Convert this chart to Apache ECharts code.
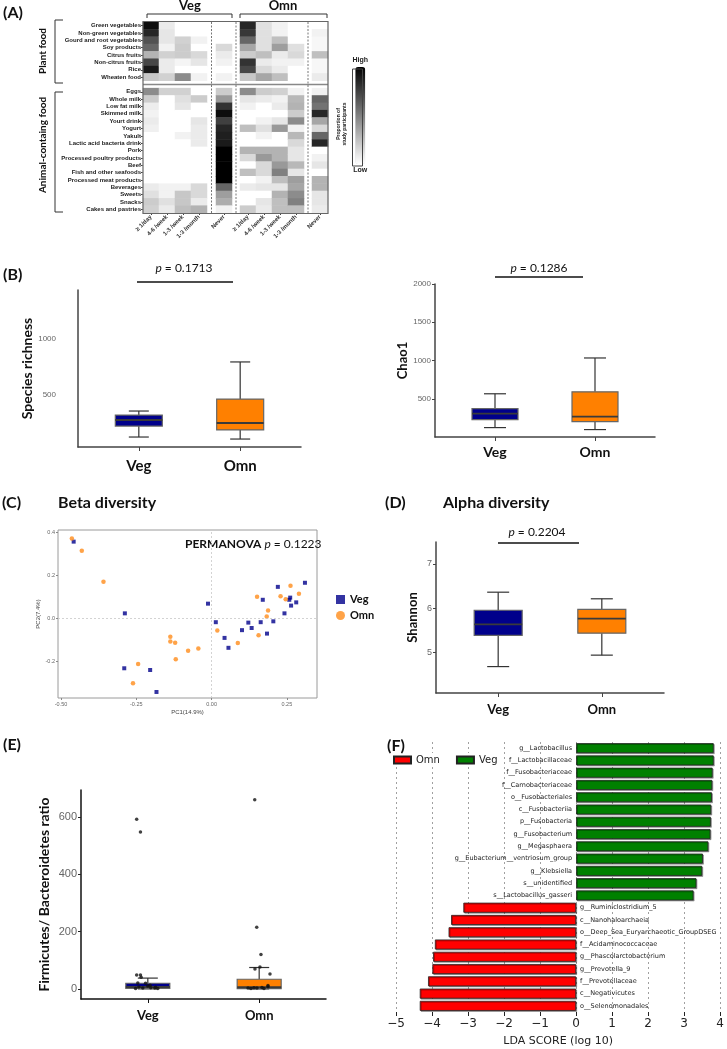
<!DOCTYPE html>
<html><head><meta charset="utf-8">
<script src="https://cdn.jsdelivr.net/npm/echarts@6/dist/echarts.min.js"></script>
<style>html,body{margin:0;padding:0;background:#fff}#c{width:727px;height:1049px}</style>
</head><body><div id="c"></div><script>
// ---------- DATA ----------
const plantFoods = ['Green vegetables','Non-green vegetables','Gourd and root vegetables','Soy products','Citrus fruits','Non-citrus fruits','Rice','Wheaten food'];
const animalFoods = ['Eggs','Whole milk','Low fat milk','Skimmed milk','Yourt drink','Yogurt','Yakult','Lactic acid bacteria drink','Pork','Processed poultry products','Beef','Fish and other seafoods','Processed meat products','Beverages','Sweets','Snacks','Cakes and pastries'];
const freqCats = ['\u2265 1/day','4-6 /week','1-3 /week','1-3 /month'];
const neverCat = ['Never'];
// proportion of participants (0 = low, 1 = high), rows in order plantFoods then animalFoods
const vegDaily   = [0.95,0.85,0.68,0.6,0.3,0.72,0.9,0.22, 0.45,0.2,0.07,0.05,0.08,0.06,0,0,0,0,0,0,0,0.08,0.12,0.2,0.18];
const vegWeek46  = [0.08,0.1,0.1,0.05,0.18,0.08,0.08,0.18, 0.18,0,0,0,0,0,0,0,0,0,0,0,0,0.05,0.05,0.12,0.08];
const vegWeek13  = [0,0,0.18,0.2,0.2,0.04,0,0.45, 0.18,0.12,0.1,0,0,0,0.05,0,0,0,0,0,0,0.05,0.22,0.22,0.25];
const vegMonth13 = [0,0,0.05,0,0.15,0.1,0,0.05, 0,0.2,0,0,0.1,0.08,0.08,0.08,0,0,0,0,0,0.15,0.15,0.08,0.3];
const vegNever   = [0,0,0,0.15,0.08,0.05,0,0.05, 0.2,0.4,0.8,0.95,0.75,0.85,0.88,0.9,1,1,1,1,1,0.6,0.38,0.32,0.05];
const omnDaily   = [0.85,0.78,0.6,0.35,0.2,0.8,0.72,0.22, 0.45,0.1,0.05,0,0,0.25,0,0,0.3,0.15,0,0.25,0,0.08,0,0,0.2];
const omnWeek46  = [0.12,0.12,0.12,0.12,0.25,0.08,0.15,0.35, 0.2,0.08,0,0,0.05,0.12,0.05,0,0.3,0.4,0.15,0.15,0.05,0.1,0,0.1,0.08];
const omnWeek13  = [0.05,0.05,0.25,0.38,0.08,0.05,0.08,0.25, 0.18,0.05,0.08,0,0.1,0.4,0,0,0.3,0.3,0.4,0.5,0.25,0.1,0.3,0.25,0.25];
const omnMonth13 = [0,0,0,0.12,0.15,0.05,0,0, 0.05,0.28,0.3,0.2,0.45,0.05,0.28,0.15,0.1,0.1,0.28,0.1,0.38,0.35,0.45,0.5,0.25];
const omnNever   = [0,0.05,0.03,0.03,0.25,0.03,0.03,0.08, 0.05,0.6,0.55,0.85,0.35,0.15,0.6,0.85,0,0.05,0.1,0,0.3,0.3,0.1,0.1,0.08];

const groups = ['Veg','Omn'];
// boxplot stats: [min, Q1, median, Q3, max]
const richnessVeg = [125,223,277,321,357];
const richnessOmn = [107,188,250,464,795];
const chao1Veg = [123,227,305,370,565];
const chao1Omn = [97,201,266,590,1033];
const shannonVeg = [4.67,5.38,5.63,5.95,6.36];
const shannonOmn = [4.93,5.43,5.76,5.97,6.21];
const fbVeg = [0.3,2,7,20,38];
const fbOmn = [0.3,1.5,6,34,75];
// individual F/B ratio points and their horizontal jitter
const fbVegPts    = [593,548,49,49,41,21,20,7,3,10,4,3,2,2,13,6];
const fbVegJitter = [-0.10,-0.066,-0.10,-0.066,-0.06,-0.09,-0.02,-0.08,-0.045,0,0.027,0.063,0.09,-0.11,0.02,0.07];
const fbOmnPts    = [661,216,120,77,70,52,3,2,4,3,5,2,8,12];
const fbOmnJitter = [-0.04,-0.022,0.016,0.007,-0.038,0.097,-0.1,-0.074,-0.047,-0.02,0.025,0.043,0.079,0.079];

// PCoA coordinates [PC1, PC2]
const pcoaVeg = [[-0.458,0.356],[-0.288,0.023],[-0.29,-0.232],[-0.204,-0.24],[-0.183,-0.342],[-0.012,0.068],[0.014,-0.018],[0.043,-0.091],[0.056,-0.137],[0.101,-0.055],[0.122,-0.02],[0.133,-0.045],[0.163,-0.018],[0.17,0.086],[0.184,-0.071],[0.205,-0.014],[0.22,0.146],[0.242,0.023],[0.258,0.086],[0.261,0.096],[0.264,0.059],[0.281,0.074],[0.31,0.165]];
const pcoaOmn = [[-0.464,0.371],[-0.431,0.314],[-0.359,0.17],[-0.244,-0.212],[-0.261,-0.302],[-0.137,-0.086],[-0.137,-0.108],[-0.121,-0.114],[-0.119,-0.19],[-0.078,-0.151],[-0.044,-0.14],[0.019,-0.057],[0.087,-0.115],[0.151,0.10],[0.156,-0.079],[0.1875,0.036],[0.183,0.008],[0.229,0.102],[0.246,0.089],[0.262,0.151],[0.29,0.114]];

// LEfSe
const taxa = ['g__Lactobacillus','f__Lactobacillaceae','f__Fusobacteriaceae','f__Carnobacteriaceae','o__Fusobacteriales','c__Fusobacteriia','p__Fusobacteria','g__Fusobacterium','g__Megasphaera','g__Eubacterium__ventriosum_group','g__Klebsiella','s__unidentified','s__Lactobacillus_gasseri','g__Ruminiclostridium_5','c__Nanohaloarchaeia','o__Deep_Sea_Euryarchaeotic_GroupDSEG','f__Acidaminococcaceae','g__Phascolarctobacterium','g__Prevotella_9','f__Prevotellaceae','c__Negativicutes','o__Selenomonadales'];
const ldaScores = [3.82,3.82,3.79,3.78,3.77,3.75,3.74,3.73,3.67,3.52,3.50,3.34,3.26,-3.13,-3.47,-3.54,-3.92,-3.97,-3.99,-4.11,-4.34,-4.34];

// ---------- BUILD ----------
const NAVY = '#00008B', ORANGE = '#FF8000';
const yCats = [...plantFoods, '', ...animalFoods];
const rowY = i => (i < plantFoods.length ? i : i + 1);
function heatData(cols){
  const out = [];
  cols.forEach((arr, c) => arr.forEach((v, r) => out.push([c, rowY(r), v])));
  return out;
}
const heatGrids = [
  {left:143, top:22, width:64, height:191},
  {left:216, top:22, width:16, height:191},
  {left:240, top:22, width:64, height:191},
  {left:312, top:22, width:16, height:191}
];
const otherGrids = [
  {left:78, top:290, width:223, height:157},   // 4 B left
  {left:435, top:284, width:220, height:153},  // 5 B right
  {left:58, top:530, width:259, height:168, show:true, borderColor:'#9a9a9a', borderWidth:1}, // 6 C
  {left:436, top:542, width:228, height:151},  // 7 D
  {left:81, top:790, width:245, height:209},   // 8 E
  {left:396, top:742, width:326, height:270}   // 9 F
];

function heatX(i, cats){
  return {type:'category', gridIndex:i, data:cats, axisLine:{show:false},
    axisTick:{show:true, alignWithLabel:true, length:2, lineStyle:{color:'#444'}},
    axisLabel:{interval:0, rotate:45, fontSize:6, fontWeight:'bold', color:'#333', margin:3, fontFamily:'Liberation Sans'},
    splitLine:{show:false}};
}
function heatY(i, showLabels){
  return {type:'category', gridIndex:i, data:yCats, inverse:true, show:showLabels,
    axisLine:{show:false},
    axisTick:{show:true, alignWithLabel:true, length:2, interval:(idx, val) => val !== '', lineStyle:{color:'#444'}},
    axisLabel:{interval:0, fontSize:6, fontWeight:'bold', color:'#222', margin:2, fontFamily:'Liberation Sans'},
    splitLine:{show:false}};
}
function groupX(i, fs, margin, lineColor){
  return {type:'value', gridIndex:i, min:-0.6, max:1.6, splitLine:{show:false},
    axisLine:{show:true, onZero:false, lineStyle:{color:lineColor, width:1.5}},
    axisTick:{show:true, customValues:[0,1], length:4, lineStyle:{color:lineColor}},
    axisLabel:{customValues:[0,1], formatter:v => groups[Math.round(v)], fontFamily:'Lato', fontWeight:'bold', fontSize:fs, color:'#111', margin:margin}};
}
function boxRenderer(boxW, capW, fills, stroke){
  return function(params, api){
    const g = api.value(0);
    const c = v => api.coord([g, v]);
    const pMin = c(api.value(1)), pQ1 = c(api.value(2)), pMed = c(api.value(3)), pQ3 = c(api.value(4)), pMax = c(api.value(5));
    const cx = pMin[0];
    const ls = {stroke:stroke, lineWidth:1.2, fill:null};
    return {type:'group', children:[
      {type:'line', shape:{x1:cx, y1:pMin[1], x2:cx, y2:pQ1[1]}, style:ls},
      {type:'line', shape:{x1:cx, y1:pQ3[1], x2:cx, y2:pMax[1]}, style:ls},
      {type:'line', shape:{x1:cx-capW/2, y1:pMin[1], x2:cx+capW/2, y2:pMin[1]}, style:ls},
      {type:'line', shape:{x1:cx-capW/2, y1:pMax[1], x2:cx+capW/2, y2:pMax[1]}, style:ls},
      {type:'rect', shape:{x:cx-boxW/2, y:pQ3[1], width:boxW, height:pQ1[1]-pQ3[1]}, style:{fill:fills[params.dataIndex], stroke:'#666', lineWidth:1.2}},
      {type:'line', shape:{x1:cx-boxW/2, y1:pMed[1], x2:cx+boxW/2, y2:pMed[1]}, style:{stroke:'#3a3a3a', lineWidth:1.8}}
    ]};
  };
}
function boxSeries(axisIdx, a, b, boxW, capW, stroke){
  return {type:'custom', xAxisIndex:axisIdx, yAxisIndex:axisIdx,
    renderItem:boxRenderer(boxW, capW, [NAVY, ORANGE], stroke),
    encode:{x:0, y:[1,2,3,4,5]},
    data:[[0, ...a], [1, ...b]], silent:true};
}

const tickGray = {fontFamily:'Liberation Sans', color:'#666', formatter:v => String(v)};

const xAxes = [
  heatX(0, freqCats), heatX(1, neverCat), heatX(2, freqCats), heatX(3, neverCat),
  groupX(4, 15, 12, '#444'),
  groupX(5, 14, 8, '#444'),
  {type:'value', gridIndex:6, min:-0.51, max:0.35, splitLine:{show:false}, axisLine:{show:false, onZero:false},
    axisTick:{show:true, customValues:[-0.5,-0.25,0,0.25], length:2, lineStyle:{color:'#888'}},
    axisLabel:{customValues:[-0.5,-0.25,0,0.25], fontSize:5.5, margin:3, ...tickGray, formatter:v => v.toFixed(2)},
    name:'PC1(14.9%)', nameLocation:'middle', nameGap:11, nameTextStyle:{fontSize:6, color:'#444', fontFamily:'Liberation Sans'}},
  groupX(7, 13, 10, '#444'),
  groupX(8, 13, 10, '#111'),
  {type:'value', gridIndex:9, min:-5, max:4, interval:1, splitLine:{show:true, lineStyle:{type:[2,3], color:'#888', width:0.8}},
    axisLine:{show:false, onZero:false}, axisTick:{show:true, length:4, lineStyle:{color:'#222'}},
    axisLabel:{formatter:v => v < 0 ? '\u2212' + Math.abs(v) : String(v), fontSize:12, color:'#222', fontFamily:'DejaVu Sans', margin:6},
    name:'LDA SCORE (log 10)', nameLocation:'middle', nameGap:24, nameTextStyle:{fontSize:11, color:'#222', fontFamily:'DejaVu Sans'}}
];
const yAxes = [
  heatY(0, true), heatY(1, false), heatY(2, false), heatY(3, false),
  {type:'value', gridIndex:4, min:36, max:1437, splitLine:{show:false},
    axisLine:{show:true, onZero:false, lineStyle:{color:'#444', width:1.5}}, axisTick:{show:false},
    axisLabel:{customValues:[500,1000], fontSize:8, margin:22, ...tickGray},
    name:'Species richness', nameLocation:'middle', nameGap:24, nameTextStyle:{fontFamily:'Lato', fontWeight:'bold', fontSize:14, color:'#111'}},
  {type:'value', gridIndex:5, min:0, max:2000, splitLine:{show:false},
    axisLine:{show:true, onZero:false, lineStyle:{color:'#444', width:1.5}},
    axisTick:{show:true, customValues:[500,1000,1500,2000], length:3, lineStyle:{color:'#444'}},
    axisLabel:{customValues:[500,1000,1500,2000], fontSize:8, margin:4, ...tickGray},
    name:'Chao1', nameLocation:'middle', nameGap:24, nameTextStyle:{fontFamily:'Lato', fontWeight:'bold', fontSize:13, color:'#111'}},
  {type:'value', gridIndex:6, min:-0.37, max:0.41, splitLine:{show:false}, axisLine:{show:false, onZero:false},
    axisTick:{show:true, customValues:[-0.2,0,0.2,0.4], length:2, lineStyle:{color:'#888'}},
    axisLabel:{customValues:[-0.2,0,0.2,0.4], fontSize:5.5, margin:3, ...tickGray, formatter:v => v.toFixed(1)},
    name:'PC2(7.4%)', nameLocation:'middle', nameGap:14, nameTextStyle:{fontSize:6, color:'#444', fontFamily:'Liberation Sans'}},
  {type:'value', gridIndex:7, min:4.07, max:7.5, splitLine:{show:false},
    axisLine:{show:true, onZero:false, lineStyle:{color:'#444', width:1.5}},
    axisTick:{show:true, customValues:[5,6,7], length:3, lineStyle:{color:'#444'}},
    axisLabel:{customValues:[5,6,7], fontSize:9, margin:4, ...tickGray},
    name:'Shannon', nameLocation:'middle', nameGap:17, nameTextStyle:{fontFamily:'Lato', fontWeight:'bold', fontSize:13, color:'#111'}},
  {type:'value', gridIndex:8, min:-35, max:695, splitLine:{show:false},
    axisLine:{show:true, onZero:false, lineStyle:{color:'#111', width:1.5}},
    axisTick:{show:true, customValues:[0,200,400,600], length:3, lineStyle:{color:'#222'}},
    axisLabel:{customValues:[0,200,400,600], fontSize:11, margin:4, ...tickGray},
    name:'Firmicutes/ Bacteroidetes ratio', nameLocation:'middle', nameGap:30, nameTextStyle:{fontFamily:'Lato', fontWeight:'bold', fontSize:14, color:'#111'}},
  {type:'category', gridIndex:9, data:taxa, inverse:true, show:false}
];

const heatCols = [[vegDaily,vegWeek46,vegWeek13,vegMonth13],[vegNever],[omnDaily,omnWeek46,omnWeek13,omnMonth13],[omnNever]];
const heatSeries = heatCols.map((cols, i) => ({type:'heatmap', xAxisIndex:i, yAxisIndex:i, data:heatData(cols), silent:true, emphasis:{disabled:true}}));

const series = [
  ...heatSeries,
  boxSeries(4, richnessVeg, richnessOmn, 47, 20, '#333'),
  boxSeries(5, chao1Veg, chao1Omn, 46, 22, '#333'),
  {type:'scatter', name:'Veg', xAxisIndex:6, yAxisIndex:6, data:pcoaVeg, symbol:'rect', symbolSize:4, itemStyle:{color:NAVY},
    markLine:{silent:true, symbol:'none', label:{show:false}, lineStyle:{type:[2,2], color:'#c8c8c8', width:0.8}, data:[{xAxis:0},{yAxis:0}]}},
  {type:'scatter', name:'Omn', xAxisIndex:6, yAxisIndex:6, data:pcoaOmn, symbol:'circle', symbolSize:4.5, itemStyle:{color:'#FF8C1A'}},
  boxSeries(7, shannonVeg, shannonOmn, 48, 22, '#333'),
  boxSeries(8, fbVeg, fbOmn, 44, 20, '#333'),
  {type:'scatter', xAxisIndex:8, yAxisIndex:8, symbolSize:3.5, itemStyle:{color:'#111'}, silent:true,
    data:[...fbVegPts.map((v,i) => [0 + fbVegJitter[i], v]), ...fbOmnPts.map((v,i) => [1 + fbOmnJitter[i], v])]},
  {type:'bar', name:'F-Veg', xAxisIndex:9, yAxisIndex:9, barWidth:10, barGap:'-100%',
    data:ldaScores.map(v => v > 0 ? v : '-'),
    itemStyle:{color:'#008000', borderColor:'#222', borderWidth:0.8, shadowColor:'rgba(0,0,0,0.35)', shadowOffsetX:1, shadowOffsetY:1},
    label:{show:true, position:'left', distance:4, formatter:p => p.name, fontSize:6.5, color:'#222', fontFamily:'DejaVu Sans'}},
  {type:'bar', name:'F-Omn', xAxisIndex:9, yAxisIndex:9, barWidth:10, barGap:'-100%',
    data:ldaScores.map(v => v < 0 ? v : '-'),
    itemStyle:{color:'#FF0000', borderColor:'#222', borderWidth:0.8, shadowColor:'rgba(0,0,0,0.35)', shadowOffsetX:1, shadowOffsetY:1},
    label:{show:true, position:'right', distance:4, formatter:p => p.name, fontSize:6.5, color:'#222', fontFamily:'DejaVu Sans'}}
];

// ---------- ANNOTATIONS ----------
const bold = (t, x, y, size, extra) => Object.assign({type:'text', x:x, y:y, style:{text:t, fontFamily:'Lato', fontWeight:'bold', fontSize:size, fill:'#111', align:'left', verticalAlign:'middle'}}, extra || {});
const line = (x1,y1,x2,y2,opt) => ({type:'line', shape:{x1,y1,x2,y2}, style:Object.assign({stroke:'#333', lineWidth:1}, opt||{})});
const poly = (pts) => ({type:'polyline', shape:{points:pts}, style:{stroke:'#333', lineWidth:1, fill:null}});
const pText = (t, x, y) => ({type:'text', x:x, y:y, style:{text:'{i|p} = ' + t, fontFamily:'Lato', fontSize:12, fill:'#111', align:'center', verticalAlign:'middle',
  rich:{i:{fontStyle:'italic', fontFamily:'Lato', fontSize:12}}}});

const graphics = [
  bold('(A)', 3, 13, 16), bold('(B)', 3, 275, 16), bold('(C)', 2, 503, 16), bold('(D)', 385, 503, 16), bold('(E)', 3, 745, 16),
  {type:'rect', z:1, shape:{x:384, y:736, width:30, height:20}, style:{fill:'#fff'}},
  bold('(F)', 387, 746, 16, {z:5}),
  bold('Beta diversity', 58, 503, 16), bold('Alpha diversity', 443, 503, 16),
  {type:'rect', shape:{x:143, y:21.5, width:185, height:192}, style:{fill:null, stroke:'#666', lineWidth:1.2}, z:10},
  line(143, 84.4, 328, 84.4, {stroke:'#888', lineWidth:1.5}),
  line(211.5, 22, 211.5, 213, {stroke:'#777', lineDash:[2,1.5]}),
  line(236, 22, 236, 213, {stroke:'#777', lineDash:[2,1.5]}),
  line(308, 22, 308, 213, {stroke:'#777', lineDash:[2,1.5]}),
  poly([[147,18],[147,14],[232,14],[232,18]]), poly([[240,18],[240,14],[327,14],[327,18]]),
  poly([[63,20],[55,20],[55,83],[63,83]]), poly([[63,92],[55,92],[55,212],[63,212]]),
  {type:'text', x:190, y:6, style:{text:'Veg', fontFamily:'Lato', fontWeight:'bold', fontSize:13, fill:'#111', align:'center', verticalAlign:'middle'}},
  {type:'text', x:283, y:6, style:{text:'Omn', fontFamily:'Lato', fontWeight:'bold', fontSize:13, fill:'#111', align:'center', verticalAlign:'middle'}},
  {type:'text', x:43, y:51, rotation:Math.PI/2, style:{text:'Plant food', fontFamily:'Lato', fontWeight:'bold', fontSize:10, fill:'#111', align:'center', verticalAlign:'middle'}},
  {type:'text', x:43, y:145, rotation:Math.PI/2, style:{text:'Animal-containg food', fontFamily:'Lato', fontWeight:'bold', fontSize:10, fill:'#111', align:'center', verticalAlign:'middle'}},
  {type:'rect', shape:{x:352.5, y:69, width:10, height:97}, style:{fill:null, stroke:'#444', lineWidth:1}, z:10},
  {type:'text', x:342, y:124, rotation:Math.PI/2, style:{text:'Proportion of\nstudy participants', fontFamily:'Liberation Sans', fontWeight:'bold', fontSize:5, lineHeight:6, fill:'#222', align:'center', verticalAlign:'middle'}},
  pText('0.1713', 184, 268), line(137, 282, 233, 282, {stroke:'#111', lineWidth:1.5}),
  pText('0.1286', 539, 268), line(495, 277, 583, 277, {stroke:'#111', lineWidth:1.5}),
  pText('0.2204', 537, 532), line(498, 543, 579, 543, {stroke:'#111', lineWidth:1.5}),
  {type:'text', x:185, y:544, style:{text:'{b|PERMANOVA} {i|p} = 0.1223', fontFamily:'Lato', fontSize:12, fill:'#111', align:'left', verticalAlign:'middle',
    rich:{b:{fontWeight:'bold', fontFamily:'Lato', fontSize:12}, i:{fontStyle:'italic', fontFamily:'Lato', fontSize:12}}}}
];

const option = {
  animation:false,
  backgroundColor:'#fff',
  textStyle:{fontFamily:'Liberation Sans'},
  grid:[...heatGrids, ...otherGrids],
  xAxis:xAxes,
  yAxis:yAxes,
  visualMap:{type:'continuous', seriesIndex:[0,1,2,3], dimension:2, min:0, max:1, calculable:false,
    inRange:{color:['#ffffff','#000000']}, orient:'vertical', left:352.5, top:57, padding:0,
    itemWidth:10, itemHeight:97, text:['High','Low'], textGap:3,
    textStyle:{fontSize:7, fontWeight:'bold', color:'#222', fontFamily:'Liberation Sans'}},
  legend:[
    {data:[{name:'Veg', icon:'rect'},{name:'Omn', icon:'circle'}], orient:'vertical', left:331, top:589, itemWidth:9, itemHeight:9, itemGap:5,
      textStyle:{fontFamily:'Lato', fontWeight:'bold', fontSize:11, color:'#111'}, selectedMode:false},
    {data:[{name:'F-Omn', icon:'rect'},{name:'F-Veg', icon:'rect'}], orient:'horizontal', left:390, top:753, itemWidth:17, itemHeight:7, itemGap:16, padding:[2,3],
      backgroundColor:'#fff', formatter:n => n.replace('F-',''), selectedMode:false,
      textStyle:{fontFamily:'DejaVu Sans', fontSize:10, color:'#222'}}
  ],
  graphic:{elements:graphics},
  series:series
};
const chart = echarts.init(document.getElementById('c'), null, {renderer:'canvas', width:727, height:1049});
chart.setOption(option);
</script></body></html>
